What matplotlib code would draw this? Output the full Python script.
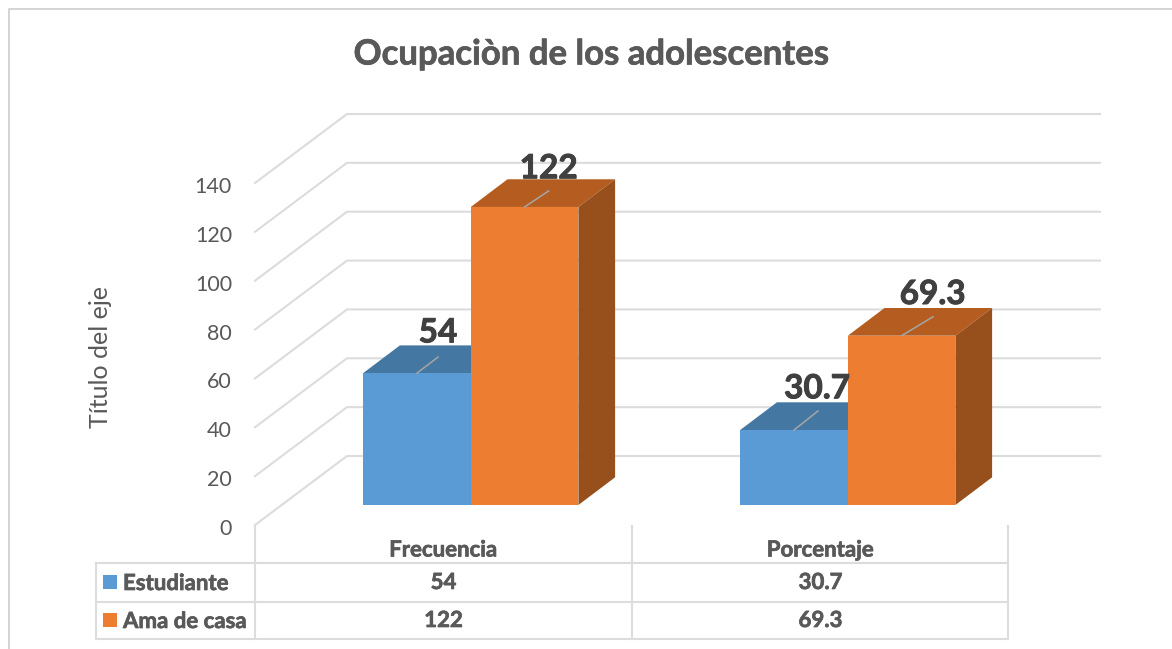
import matplotlib
matplotlib.use("Agg")
import matplotlib.pyplot as plt
import matplotlib.patheffects as pe
from matplotlib.patches import Polygon, Rectangle

plt.rcParams['font.family'] = ['Lato', 'DejaVu Sans']

title = "Ocupaciòn de los adolescentes"
y_title = "Título del eje"
categories = ["Frecuencia", "Porcentaje"]
series_names = ["Estudiante", "Ama de casa"]
estudiante = [54, 30.7]
ama_de_casa = [122, 69.3]
estudiante_labels = ["54", "30.7"]
ama_labels = ["122", "69.3"]
y_ticks = [0, 20, 40, 60, 80, 100, 120, 140]

W, H = 1172, 649
GRID = "#dcdcdc"
TXT = "#595959"
DARK = "#404040"
BLUE = ("#5b9bd5", "#4577a3", "#335a7d")
ORANGE = ("#ed7d31", "#b55d20", "#97501b")

fig = plt.figure(figsize=(W / 100, H / 100), dpi=100, facecolor="white")
pix = fig.add_axes([0, 0, 1, 1])
pix.set_xlim(0, W); pix.set_ylim(H, 0); pix.axis("off")

PX_PER_UNIT = 342 / 140
PX_PER_CAT = 377.0
X0, Y0 = 470.8, 505.0
ax = fig.add_axes([0, 0, 1, 1], facecolor="none")
ax.set_xlim(-X0 / PX_PER_CAT, (W - X0) / PX_PER_CAT)
ax.set_ylim((Y0 - H) / PX_PER_UNIT, Y0 / PX_PER_UNIT)
ax.axis("off")

DX = 36.7 / PX_PER_CAT
DY = 27.7 / PX_PER_UNIT
BAR_W = 107.6 / PX_PER_CAT
FRONT_DY = -20 / PX_PER_UNIT
BACK_DY = 49 / PX_PER_UNIT
LEFT_X = (255 - X0) / PX_PER_CAT
BACK_X = (347 - X0) / PX_PER_CAT
RIGHT_X = (1100 - X0) / PX_PER_CAT

bold_fx = [pe.withStroke(linewidth=0.5, foreground=TXT)]
dark_fx = [pe.withStroke(linewidth=0.7, foreground=DARK)]

pix.plot([8.5, 8.5, W], [H, 8.5, 8.5], color="#d4d4d4", lw=1.4, solid_capstyle="butt")

for t in y_ticks:
    ax.plot([LEFT_X, BACK_X, RIGHT_X], [t + FRONT_DY, t + BACK_DY, t + BACK_DY],
            color=GRID, lw=1.5, zorder=1, solid_joinstyle="round")
    ax.annotate(str(t), (LEFT_X, t + FRONT_DY), xytext=(-23, -4), textcoords="offset pixels",
                ha="right", va="center", fontsize=15.5, color=TXT)

pix.text(100, 356.5, y_title, rotation=90, ha="center", va="center", fontsize=18, color=TXT)


def bar3d(left, value, cols):
    right = left + BAR_W
    ax.add_patch(Polygon([(left, value), (right, value), (right + DX, value + DY), (left + DX, value + DY)],
                         closed=True, fc=cols[1], ec="none", zorder=3))
    ax.add_patch(Polygon([(right, 0), (right + DX, DY), (right + DX, value + DY), (right, value)],
                         closed=True, fc=cols[2], ec="none", zorder=3))
    ax.add_patch(Rectangle((left, 0), BAR_W, value, fc=cols[0], ec="none", zorder=4))


def label(left, value, text, leader_px, shift_px, lift_px):
    cx = left + BAR_W / 2
    ax.plot([cx, cx + leader_px[0] / PX_PER_CAT], [value, value + leader_px[1] / PX_PER_UNIT],
            color="#a6a6a6", lw=1.1, zorder=6)
    ax.annotate(text, (cx, value + DY), xytext=(shift_px, lift_px), textcoords="offset pixels",
                ha="center", va="baseline", fontsize=24, fontweight="bold", color=DARK, zorder=7,
                path_effects=dark_fx)


# Leader-line offsets and label nudges, in pixels: (leader, x shift, lift)
est_layout = [((21, 16), 21, 3), ((24, 19), 23, 4)]
ama_layout = [((24, 16), 24, 1), ((31.5, 19), 31, 4)]

for i in range(len(categories)):
    bar3d(i - BAR_W, estudiante[i], BLUE)
    bar3d(i, ama_de_casa[i], ORANGE)
for i in range(len(categories)):
    label(i - BAR_W, estudiante[i], estudiante_labels[i], *est_layout[i])
    label(i, ama_de_casa[i], ama_labels[i], *ama_layout[i])

pix.text(591.5, 54.5, title, ha="center", va="center", fontsize=25, fontweight="bold", color=TXT,
         path_effects=bold_fx)

T = dict(color=GRID, lw=1.5, solid_capstyle="projecting")
XL, XA, XM, XR = 95.5, 255, 632, 1008
Y_T, Y_1, Y_2, Y_B = 526, 563, 601.5, 639
pix.plot([XL, XR], [Y_1, Y_1], **T)
pix.plot([XL, XR], [Y_2, Y_2], **T)
pix.plot([XL, XR], [Y_B, Y_B], **T)
pix.plot([XL, XL], [Y_1, Y_B], **T)
for x in (XA, XM, XR):
    pix.plot([x, x], [Y_T, Y_B], **T)

fs = 16
for x, c in zip((443.5, 820.5), categories):
    pix.text(x, 550, c, ha="center", va="center", fontsize=fs, fontweight="bold", color=TXT,
             path_effects=bold_fx)
for row_y, name, col, vals in zip((582.5, 620.5), series_names, (BLUE[0], ORANGE[0]),
                                  (estudiante_labels, ama_labels)):
    pix.add_patch(Rectangle((103, row_y - 7.5), 14, 14, fc=col, ec="none"))
    pix.text(123, row_y + 1, name, ha="left", va="center", fontsize=fs, fontweight="bold", color=TXT,
             path_effects=bold_fx)
    for x, v in zip((443.5, 820.5), vals):
        pix.text(x, row_y, v, ha="center", va="center", fontsize=fs, fontweight="bold", color=TXT,
                 path_effects=bold_fx)

fig.savefig("out.png", dpi=100, facecolor="white")
